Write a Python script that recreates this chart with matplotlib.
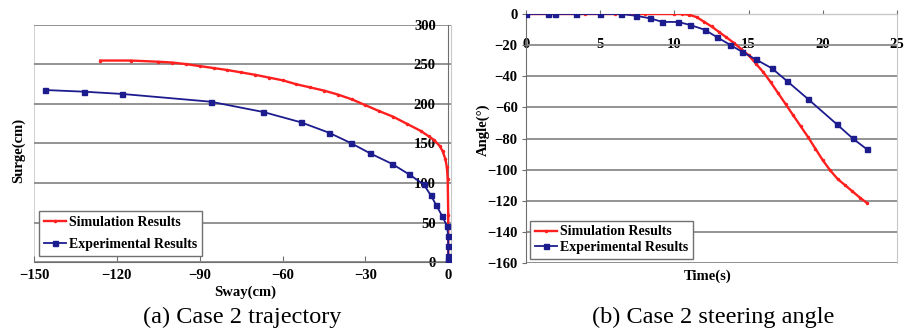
"""Case 2: trajectory and steering angle, simulation vs experiment."""

import matplotlib
matplotlib.use("Agg")
import matplotlib.pyplot as plt

RED = "#ff1f1f"
NAVY = "#1c1c8e"
GRID = "#8a8a8a"
FRAME = "#c8c8c8"
AXIS = "#6e6e6e"
SERIF = ["Liberation Serif", "DejaVu Serif"]

# ---- (a) trajectory: sway (x) vs surge (y), cm
sim_sway = [-126, -115, -105, -100, -95, -90, -85, -80, -75, -70, -65, -60,
            -55, -50, -45, -40, -35, -30, -25, -20, -15, -10, -7, -5, -3,
            -2, -1, -0.5, -0.2, 0, 0]
sim_surge = [255, 255, 253.5, 252.5, 250.5, 248, 245.5, 243, 240, 237, 233.5,
             230, 225, 221, 217, 212, 206, 198.5, 191, 184, 175, 166, 159,
             154, 146.5, 140, 130, 120, 105, 60, 0]
exp_sway = [-146, -132, -118, -86, -67, -53.3, -43.2, -35.3, -28.3, -20.3,
            -14.2, -8.9, -6.3, -4.3, -2.2, -0.5, 0, 0, 0, 0, 0]
exp_surge = [217.7, 215.6, 212.7, 202.9, 189.9, 176.8, 163.7, 150.6, 137.6,
             124.1, 111.0, 98.3, 84.4, 71.7, 58.2, 46, 33.3, 20.3, 7.6, 3, 0]
sway_ticks = [-150, -120, -90, -60, -30, 0]
sway_labels = ["\u2212150", "\u2212120", "\u221290", "\u221260", "\u221230", "0"]
surge_ticks = [0, 50, 100, 150, 200, 250, 300]

# ---- (b) steering angle vs time
sim_time = [0, 2, 4, 6, 8, 10, 10.5, 11, 11.5, 12, 12.5, 13, 13.5, 14, 14.5,
            15, 15.5, 16, 16.5, 17, 17.5, 18, 18.5, 19, 19.5, 20, 20.5, 21,
            21.5, 22, 22.5, 23]
sim_angle = [0, 0, 0, 0, 0, 0, 0, -0.5, -2, -5, -8, -11.5, -15, -18.5, -22.5,
             -26.5, -32, -37.5, -44, -51, -58, -65, -72, -79, -86.5, -94,
             -100.5, -106, -110, -114, -118, -121.6]
exp_time = [0, 1.48, 1.97, 3.37, 5.0, 6.4, 7.39, 8.38, 9.19, 10.26, 11.07,
            12.04, 12.89, 13.77, 14.55, 15.47, 16.57, 17.59, 19.0, 20.95,
            22.01, 22.98]
exp_angle = [0, 0, 0, 0, 0, 0, -1.1, -2.8, -5.1, -5.1, -7.1, -10.1, -15.0,
             -19.9, -24.2, -29.1, -34.9, -43.1, -54.6, -70.9, -79.9, -87.0]
time_ticks = [0, 5, 10, 15, 20, 25]
angle_ticks = [0, -20, -40, -60, -80, -100, -120, -140, -160]

SIM_LABEL = "Simulation Results"
EXP_LABEL = "Experimental Results"


def _series(ax, sx, sy, ex, ey):
    ax.plot(sx, sy, color=RED, lw=1.7, marker=".", ms=3, label=SIM_LABEL, zorder=3)
    ax.plot(ex, ey, color=NAVY, lw=1.3, marker="s", ms=3.6, label=EXP_LABEL, zorder=4)


def _legend(ax, anchor, spacing):
    leg = ax.legend(loc="lower left", bbox_to_anchor=anchor, borderaxespad=0,
                    fancybox=False, framealpha=1, edgecolor="#707070",
                    handlelength=1.6, handletextpad=0.2, labelspacing=spacing,
                    borderpad=0.35, prop={"family": SERIF, "weight": "bold", "size": 10})
    leg.get_frame().set_linewidth(1.0)


def _bold(labels):
    for t in labels:
        t.set_fontfamily(SERIF)
        t.set_fontweight("bold")
        t.set_fontsize(10.5)


fig = plt.figure(figsize=(9.17, 3.35), dpi=100)

# ------------------------------------------------------------- (a)
ax1 = fig.add_axes([0.0371, 0.2179, 0.4547, 0.7075])
_series(ax1, sim_sway, sim_surge, exp_sway, exp_surge)
ax1.set_xlim(-150, 1)
ax1.set_ylim(0, 300)
ax1.set_xticks(sway_ticks)
ax1.set_xticklabels(sway_labels)
ax1.set_yticks(surge_ticks)
ax1.yaxis.grid(True, color=GRID, lw=1.3)
ax1.set_axisbelow(True)
ax1.spines["left"].set_position(("data", 0))
ax1.spines["left"].set_color(AXIS)
ax1.spines["bottom"].set_color(AXIS)
ax1.spines["top"].set_visible(False)
ax1.spines["right"].set_color(FRAME)
ax1.axvline(-150, color=FRAME, lw=1.2, zorder=0)
ax1.tick_params(axis="x", direction="in", length=4, color=AXIS, pad=5)
ax1.tick_params(axis="y", length=0, pad=9)
_bold(ax1.get_xticklabels() + ax1.get_yticklabels())
ax1.set_xlabel("Sway(cm)", family=SERIF, weight="bold", fontsize=10.5)
ax1.set_ylabel("Surge(cm)", family=SERIF, weight="bold", fontsize=10.5)
ax1.xaxis.set_label_coords(0.506, -0.101)
ax1.yaxis.set_label_coords(-0.022, 0.47)
_legend(ax1, (0.012, 0.025), 0.65)

# ------------------------------------------------------------- (b)
ax2 = fig.add_axes([0.5736, 0.2149, 0.4046, 0.7433])
_series(ax2, sim_time, sim_angle, exp_time, exp_angle)
ax2.set_xlim(0, 25)
ax2.set_ylim(-160, 0)
ax2.set_xticks(time_ticks)
ax2.set_yticks(angle_ticks)
ax2.yaxis.grid(True, color=GRID, lw=1.3)
ax2.set_axisbelow(True)
ax2.spines["bottom"].set_position(("data", 0))
ax2.spines["bottom"].set_color(AXIS)
ax2.spines["left"].set_color(AXIS)
ax2.spines["top"].set_color(FRAME)
ax2.spines["right"].set_color(FRAME)
ax2.axhline(-160, color=FRAME, lw=1.2, zorder=0)
ax2.tick_params(axis="x", direction="in", length=3, color=AXIS, pad=17)
ax2.tick_params(axis="y", direction="out", length=3, color=AXIS, pad=3)
_bold(ax2.get_xticklabels() + ax2.get_yticklabels())
ax2.set_xlabel("Time(s)", family=SERIF, weight="bold", fontsize=10.5)
ax2.set_ylabel("Angle(°)", family=SERIF, weight="bold", fontsize=10.5)
ax2.xaxis.set_label_coords(0.49, -0.028)
ax2.yaxis.set_label_coords(-0.097, 0.534)
_legend(ax2, (0.011, 0.016), 0.2)

# captions
fig.text(0.2645, 0.054, "(a) Case 2 trajectory", family=SERIF, fontsize=17.5,
         ha="center", va="center")
fig.text(0.7775, 0.054, "(b) Case 2 steering angle", family=SERIF, fontsize=17.5,
         ha="center", va="center")

fig.savefig("out.png", dpi=100, facecolor="white")
